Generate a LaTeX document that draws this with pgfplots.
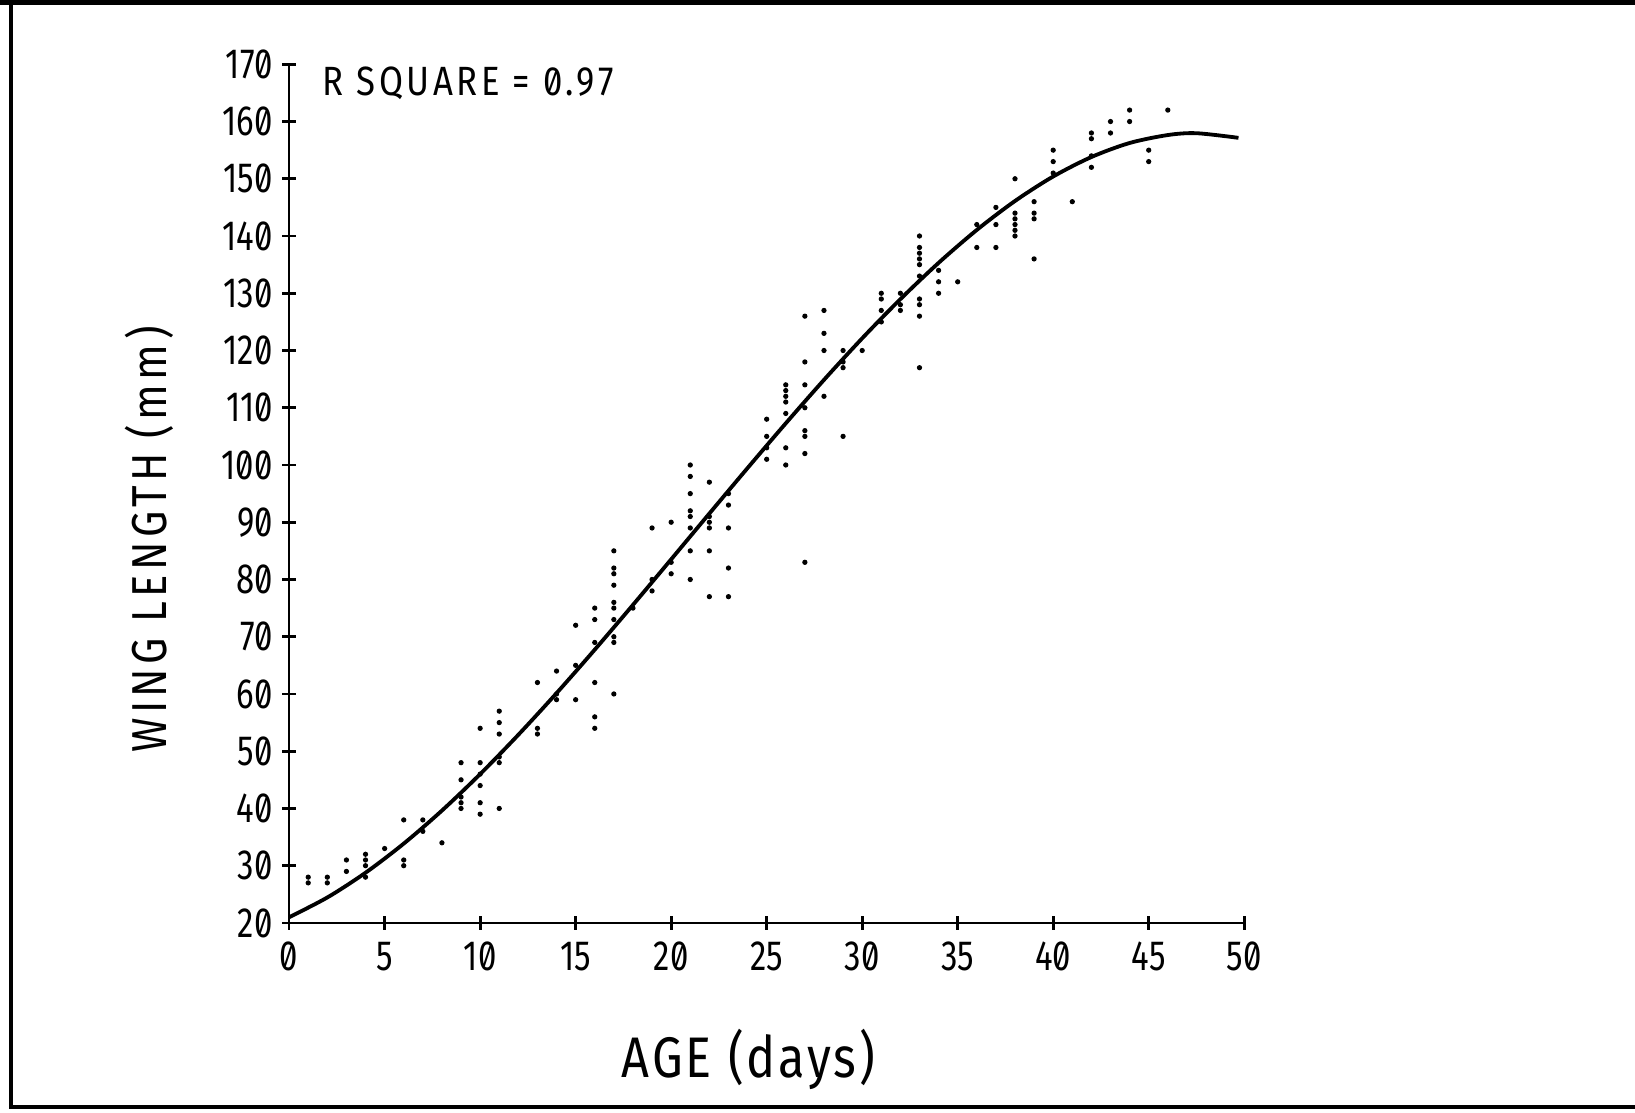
\documentclass[border=0pt]{standalone}
\usepackage{fontspec}
\setmainfont{Fira Sans}[FakeStretch=0.78, Numbers=SlashedZero]
\newfontfamily\labfont{Fira Sans}[FakeStretch=0.85, LetterSpace=9, Numbers=SlashedZero]
\newfontfamily\labfontx{Fira Sans}[FakeStretch=0.85, LetterSpace=5, Numbers=SlashedZero]
\usepackage{pgfplots}
\usepackage{pgfplotstable}
\pgfplotsset{compat=1.18}
\pgfplotstableread{
day len
1 28
1 27
2 28
2 27
3 31
3 29
4 32
4 31
4 30
4 28
5 33
6 38
6 31
6 30
7 38
7 36
8 34
9 48
9 45
9 42
9 41
9 40
10 54
10 48
10 46
10 44
10 41
10 39
11 57
11 55
11 53
11 49
11 48
11 40
13 62
13 54
13 53
14 64
14 60
14 59
15 72
15 65
15 59
16 75
16 73
16 69
16 62
16 56
16 54
17 85
17 82
17 81
17 79
17 76
17 75
17 73
17 70
17 69
17 60
18 75
19 89
19 80
19 78
20 90
20 83
20 81
21 100
21 98
21 95
21 92
21 91
21 89
21 85
21 80
22 97
22 91
22 90
22 89
22 85
22 77
23 95
23 93
23 89
23 82
23 77
25 108
25 105
25 103
25 101
26 114
26 113
26 112
26 111
26 109
26 103
26 100
27 126
27 118
27 114
27 110
27 106
27 105
27 102
27 83
28 127
28 123
28 120
28 112
29 120
29 118
29 117
29 105
30 120
31 130
31 129
31 127
31 125
32 130
32 128
32 127
33 140
33 138
33 137
33 136
33 135
33 133
33 129
33 128
33 126
33 117
34 134
34 132
34 130
35 132
36 142
36 138
37 145
37 142
37 138
38 150
38 144
38 143
38 142
38 141
38 140
39 146
39 144
39 143
39 136
40 155
40 153
40 151
41 146
42 158
42 157
42 154
42 152
43 160
43 158
44 162
44 160
45 155
45 153
46 162
}\obs
\pgfplotstableread{
day len
0 21
2 24.45
4 28.77
6 33.86
8 39.63
10 46.00
12 52.87
14 60.14
16 67.74
18 75.56
20 83.52
22 91.52
24 99.47
26 107.28
28 114.87
30 122.13
32 128.97
34 135.31
36 141.06
38 146.12
40 150.40
42 153.80
44 156.25
46 157.64
47.5 157.96
49.7 157.15
}\fit
\begin{document}
\begin{tikzpicture}
\path[use as bounding box] (-106.1pt,-69.7pt) rectangle (493.9pt,338.7pt);
\draw[line width=1.8pt] (-106.1pt,337.7pt) -- (493.9pt,337.7pt);
\draw[line width=1.2pt] (-102.1pt,338.7pt) -- (-102.1pt,-67.5pt) -- (493.9pt,-67.5pt);
\begin{axis}[
  scale only axis, width=350.5pt, height=315.1pt,
  xmin=0, xmax=50, ymin=20, ymax=170,
  axis x line*=bottom, axis y line*=left,
  axis line style={-, line width=1pt},
  xtick={0,5,...,50}, ytick={20,30,...,170},
  tick align=center, major tick length=5pt,
  tick style={line width=1pt, black},
  /pgf/number format/assume math mode=true,
  ticklabel style={font=\fontsize{15.5}{17}\selectfont},
  xticklabel style={yshift=-1pt},
  xlabel={AGE\hspace{6pt}(days)},
  ylabel={WING LENGTH (mm)},
  xlabel style={font=\labfontx\fontsize{21}{24}\selectfont, at={(axis description cs:0.481,-0.1595)}, anchor=center},
  ylabel style={font=\labfont\fontsize{18}{20}\selectfont, at={(axis description cs:-0.1466,0.4465)}, anchor=center},
  clip=false,
]
\addplot[only marks, mark=*, mark size=0.75pt, black] table[x=day, y=len] {\obs};
\addplot[smooth, line width=1.4pt, black] table[x=day, y=len] {\fit};
\node[anchor=west, font=\labfont\fontsize{15}{17}\selectfont] at (axis cs:1.25,166.6) {R SQUARE = 0.97};
\end{axis}
\end{tikzpicture}
\end{document}
